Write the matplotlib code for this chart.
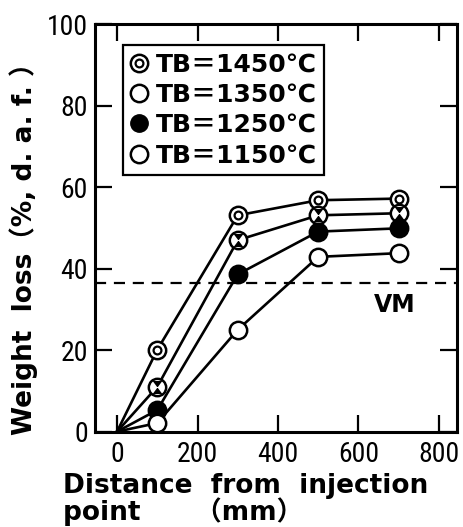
import numpy as np
import matplotlib
matplotlib.use('Agg')
import matplotlib.pyplot as plt
from matplotlib.lines import Line2D
from matplotlib.path import Path

# distance from injection point (mm) and weight loss (%, d.a.f.) per burner temperature
distance = [0, 100, 300, 500, 700]
loss_1450 = [0, 20.1, 53.1, 56.8, 57.2]
loss_1350 = [0, 11.0, 47.0, 53.1, 53.6]
loss_1250 = [0, 5.3, 38.6, 49.1, 49.9]
loss_1150 = [0, 2.1, 25.0, 42.9, 43.8]
vm_level = 36.4

labels = ['TB＝1450℃', 'TB＝1350℃', 'TB＝1250℃', 'TB＝1150℃']
xticks = [0, 200, 400, 600, 800]
yticks = [0, 20, 40, 60, 80, 100]

num_font = ['Roboto Condensed', 'DejaVu Sans']
txt_font = ['DejaVu Sans', 'Noto Sans CJK JP']

# hourglass shape drawn inside the 1350 markers
hourglass = Path([(-0.6, 0.8), (0.6, 0.8), (0, 0), (-0.6, 0.8),
                  (-0.6, -0.8), (0.6, -0.8), (0, 0), (-0.6, -0.8)],
                 [Path.MOVETO, Path.LINETO, Path.LINETO, Path.CLOSEPOLY,
                  Path.MOVETO, Path.LINETO, Path.LINETO, Path.CLOSEPOLY])

fig = plt.figure(figsize=(4.63, 5.27), dpi=100)
ax = fig.add_axes([0.205, 0.181, 0.782, 0.773])

ms = 12.5
lw = 1.9
mk = dict(markevery=slice(1, None), markersize=ms, markeredgewidth=1.8,
          markeredgecolor='black', color='black', lw=lw)

ax.axhline(vm_level, color='black', lw=1.6, dashes=(5, 3.5), zorder=1)

ax.plot(distance, loss_1450, marker='o', markerfacecolor='white', zorder=3, **mk)
ax.plot(distance[1:], loss_1450[1:], ls='none', marker='o', markersize=ms * 0.45,
        markerfacecolor='white', markeredgecolor='black', markeredgewidth=1.6, zorder=4)

ax.plot(distance, loss_1350, marker='o', markerfacecolor='white', zorder=3, **mk)
ax.plot(distance[1:], loss_1350[1:], ls='none', marker=hourglass, markersize=ms * 0.75,
        color='black', markeredgewidth=0, zorder=4)

ax.plot(distance, loss_1250, marker='o', markerfacecolor='black', zorder=3, **mk)
ax.plot(distance, loss_1150, marker='o', markerfacecolor='white', zorder=3, **mk)

ax.text(690, 31, 'VM', fontsize=17, fontweight='bold', family=txt_font,
        ha='center', va='center')

ax.set_xlim(-55, 845)
ax.set_ylim(0, 100)
ax.set_xticks(xticks)
ax.set_yticks(yticks)
ax.tick_params(direction='in', length=12, width=1.6, top=True, right=True,
               labelsize=20)
ax.tick_params(axis='x', pad=7)
ax.tick_params(axis='y', pad=5)
for lab in ax.get_xticklabels() + ax.get_yticklabels():
    lab.set_family(num_font)
for sp in ax.spines.values():
    sp.set_linewidth(2.2)

fig.text(24 / 463, 1 - 242 / 527, 'Weight  loss（%, d. a. f. ）', fontsize=19,
         fontweight='bold', family=txt_font, rotation=90, ha='center', va='center')
fig.text(0.135, 0.052, 'Distance  from  injection\npoint      （mm）', fontsize=19,
         fontweight='bold', family=txt_font, ha='left', va='center', linespacing=0.95)

# legend handles
h_white = dict(ls='none', marker='o', markersize=ms, markerfacecolor='white',
               markeredgecolor='black', markeredgewidth=1.8)
handles = [
    (Line2D([], [], **h_white),
     Line2D([], [], ls='none', marker='o', markersize=ms * 0.45, markerfacecolor='white',
            markeredgecolor='black', markeredgewidth=1.6)),
    Line2D([], [], **h_white),
    Line2D([], [], ls='none', marker='o', markersize=ms, markerfacecolor='black',
           markeredgecolor='black'),
    Line2D([], [], **h_white),
]
leg = ax.legend(handles, labels, loc='upper left',
                bbox_to_anchor=(123 / 463, 1 - 45 / 527), bbox_transform=fig.transFigure,
                borderaxespad=0, frameon=True, fancybox=False, framealpha=1,
                handlelength=0.7, handletextpad=0.3, borderpad=0.3, labelspacing=0.25,
                prop={'family': txt_font, 'weight': 'bold', 'size': 18})
leg.get_frame().set_edgecolor('black')
leg.get_frame().set_linewidth(1.6)

fig.savefig('out.png', dpi=100)
